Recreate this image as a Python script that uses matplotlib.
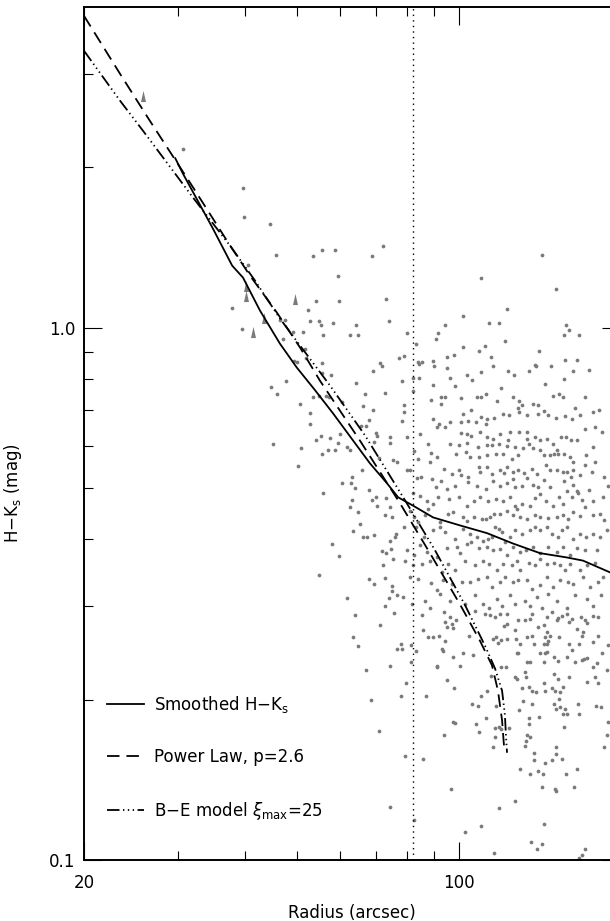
import matplotlib
matplotlib.use("Agg")
import matplotlib.pyplot as plt
from matplotlib.ticker import FixedLocator, NullFormatter

# smoothed H-Ks profile
smooth_r = [29.6, 30.6, 34.8, 37.8, 39.6, 42.6, 46.4, 49.9, 54.0, 58.3, 63.5, 68.3,
            73.5, 77.1, 82.2, 89.6, 100.6, 113.0, 126.3, 141.8, 159.2, 170.6, 191.5, 200.0]
smooth_hk = [2.08, 1.945, 1.534, 1.307, 1.241, 1.076, 0.933, 0.841, 0.762, 0.690, 0.614, 0.556,
             0.510, 0.480, 0.463, 0.440, 0.425, 0.411, 0.393, 0.377, 0.370, 0.365, 0.347, 0.340]

# power law model, p = 2.6
pl_r = [20.0, 23.35, 26.54, 31.54, 36.96, 40.8, 45.8, 50.6, 55.1, 65.4, 77.7, 88.4,
        100.6, 109.6, 115.4, 118.4, 120.5, 121.5]
pl_hk = [3.85, 2.996, 2.445, 1.871, 1.456, 1.252, 1.067, 0.917, 0.795, 0.614, 0.468, 0.377,
         0.302, 0.258, 0.232, 0.208, 0.183, 0.164]

# Bonnor-Ebert model, xi_max = 25
be_r = [20.0, 23.35, 25.77, 29.31, 31.96, 37.45, 41.7, 46.4, 50.6, 57.5, 66.9, 79.4,
        90.3, 102.8, 111.9, 116.9, 120.5, 122.0, 122.5, 123.1]
be_hk = [3.31, 2.667, 2.342, 1.970, 1.753, 1.425, 1.225, 1.040, 0.925, 0.779, 0.627, 0.474,
         0.382, 0.301, 0.253, 0.229, 0.208, 0.187, 0.172, 0.159]

boundary_r = 82.2

# limits (triangles)
lim_r = [25.8, 40.1, 40.1, 49.5, 43.3, 41.3]
lim_hk = [2.72, 1.199, 1.148, 1.133, 1.044, 0.979]

# individual stars (radius, H-Ks)
stars = [
    (30.6, 2.16), (39.6, 1.83), (39.8, 1.61), (44.5, 1.565), (45.6, 1.37), (53.6, 1.36),
    (55.6, 1.40), (58.8, 1.40), (68.9, 1.36), (72.2, 1.42), (59.5, 1.25), (40.5, 1.31),
    (73.1, 1.13), (74.2, 1.03), (37.8, 1.09), (39.4, 0.995), (54.2, 1.12), (59.8, 1.12),
    (52.4, 1.08), (52.9, 1.03), (55.0, 1.03), (55.4, 1.01), (58.2, 1.02), (55.8, 0.97),
    (51.3, 0.98), (49.1, 0.98), (46.4, 1.035), (47.5, 1.035), (47.1, 0.95), (64.4, 1.01),
    (62.7, 0.97), (65.0, 0.97), (51.6, 0.91), (49.2, 0.867), (50.0, 0.86), (51.8, 0.875),
    (55.5, 0.858), (55.6, 0.823), (57.8, 0.815), (71.3, 0.858), (72.0, 0.847), (69.1, 0.83),
    (64.4, 0.788), (47.7, 0.795), (44.7, 0.774), (77.3, 0.875),
    (143, 1.37), (110, 1.24), (152, 1.18), (102, 1.05), (123, 1.085), (94.5, 1.01),
    (114, 1.02), (119, 1.02), (80.2, 0.975), (91.6, 0.975), (90.9, 0.953), (83.4, 0.93),
    (158.6, 1.01), (157, 0.97), (160.8, 0.99), (168, 0.97), (122, 0.945), (102, 0.92),
    (112, 0.925), (109, 0.905), (141, 0.905), (79.2, 0.885), (98, 0.89), (95.2, 0.88),
    (115, 0.88), (158, 0.87), (166, 0.87), (83.9, 0.86), (84.3, 0.853), (85.6, 0.86),
    (89.5, 0.865), (89.9, 0.848), (95.2, 0.84), (116, 0.847), (110, 0.825), (103.6, 0.815),
    (123.6, 0.828), (126.6, 0.815), (135, 0.828), (139, 0.85), (139.5, 0.847), (149, 0.847),
    (163.5, 0.83), (175, 0.833), (78.4, 0.795), (82.1, 0.805), (84.3, 0.805), (96.2, 0.805),
    (106, 0.797), (89.5, 0.78), (98.5, 0.778), (145, 0.785), (157, 0.8), (120, 0.77),
    (45.8, 0.75), (50.6, 0.72), (52.8, 0.69), (52.7, 0.66), (45.0, 0.605), (50.8, 0.595),
    (50.2, 0.55), (55.9, 0.49), (53.6, 0.74), (55.0, 0.743), (56.5, 0.743), (57.4, 0.74),
    (60.7, 0.725), (55.4, 0.627), (54.2, 0.615), (57.5, 0.62), (59.6, 0.606), (60.1, 0.632),
    (57.0, 0.59), (58.9, 0.59), (55.5, 0.58), (61.9, 0.596), (62.8, 0.59), (66.8, 0.75),
    (72.9, 0.753), (66.3, 0.713), (69.2, 0.70), (67.9, 0.67), (65.6, 0.653), (67.2, 0.653),
    (70.2, 0.635), (70.4, 0.625), (69.5, 0.61), (74.5, 0.623), (74.5, 0.607), (71.0, 0.57),
    (75.5, 0.563), (76.8, 0.56), (66.1, 0.54), (63.3, 0.525), (60.7, 0.51), (62.9, 0.51),
    (64.2, 0.50), (67.9, 0.495), (63.3, 0.474), (68.9, 0.474), (70.1, 0.48), (62.6, 0.46),
    (70.3, 0.463), (73.1, 0.478), (74.5, 0.46), (75.2, 0.44), (72.9, 0.445), (65.0, 0.45),
    (65.4, 0.427), (63.4, 0.414), (66.2, 0.405), (67.5, 0.404), (69.6, 0.408), (76.1, 0.405),
    (76.4, 0.41), (74.6, 0.397), (58.0, 0.393), (59.8, 0.373), (71.9, 0.38), (73.2, 0.377),
    (74.8, 0.383), (75.5, 0.368), (72.3, 0.358), (54.9, 0.343), (68.0, 0.337), (69.4, 0.33),
    (73.0, 0.338), (75.1, 0.327), (75.1, 0.32), (76.7, 0.315), (62.0, 0.31), (74.0, 0.31),
    (72.9, 0.30),
    (82.3, 0.760), (92.6, 0.740), (94.5, 0.740), (92.8, 0.717), (88.7, 0.731), (101.0, 0.738),
    (108.1, 0.740), (110.2, 0.740), (112.4, 0.751), (117.8, 0.729), (126.2, 0.740), (129.6, 0.729),
    (131.2, 0.716), (129.2, 0.706), (137.9, 0.717), (140.5, 0.714), (144.4, 0.697), (150.3, 0.745),
    (153.7, 0.749), (156.4, 0.740), (172.1, 0.740), (164.6, 0.707), (177.8, 0.694), (182.5, 0.701),
    (168.4, 0.684), (158.2, 0.681), (162.7, 0.674), (152.0, 0.677), (147.1, 0.684), (140.9, 0.687),
    (134.0, 0.684), (129.8, 0.694), (124.3, 0.684), (121.2, 0.689), (116.4, 0.677), (113.1, 0.674),
    (109.9, 0.679), (112.4, 0.660), (107.8, 0.664), (105.6, 0.699), (102.0, 0.689), (103.9, 0.669),
    (100.9, 0.664), (92.1, 0.660), (96.4, 0.664), (94.3, 0.650), (79.1, 0.714), (79.1, 0.694),
    (78.5, 0.667), (84.7, 0.632), (89.7, 0.674), (91.0, 0.650),
    (101.0, 0.634), (103.6, 0.632), (105.6, 0.627), (109.6, 0.636), (112.8, 0.623), (116.1, 0.618),
    (119.5, 0.632), (123.8, 0.614), (124.7, 0.636), (129.8, 0.636), (134.2, 0.636), (134.4, 0.618),
    (139.0, 0.623), (141.9, 0.616), (146.0, 0.618), (150.3, 0.605), (150.7, 0.580), (153.3, 0.580),
    (155.5, 0.623), (158.9, 0.623), (161.8, 0.614), (166.5, 0.614), (172.3, 0.646), (179.6, 0.650),
    (184.8, 0.636), (80.0, 0.623), (87.6, 0.605), (96.4, 0.605), (100.0, 0.603), (103.6, 0.606),
    (108.8, 0.597), (113.1, 0.603), (115.3, 0.601), (119.0, 0.605), (122.9, 0.598), (127.4, 0.597),
    (129.2, 0.576), (132.1, 0.593), (135.0, 0.605), (137.5, 0.595), (141.9, 0.590), (144.4, 0.576),
    (148.1, 0.576), (152.4, 0.590), (157.3, 0.580), (161.3, 0.571), (163.7, 0.559), (172.8, 0.576),
    (178.3, 0.597), (82.6, 0.586), (84.1, 0.567), (88.7, 0.581), (91.3, 0.571), (98.9, 0.580),
    (103.3, 0.585), (104.8, 0.571), (109.3, 0.571), (112.8, 0.576), (117.4, 0.580), (121.2, 0.580),
    (125.8, 0.567),
    (80.0, 0.539), (81.2, 0.541), (83.5, 0.522), (85.0, 0.524), (88.4, 0.559), (89.1, 0.520),
    (92.7, 0.516), (94.1, 0.543), (97.1, 0.530), (100.0, 0.539), (101.0, 0.529), (104.0, 0.525),
    (109.3, 0.547), (109.6, 0.535), (113.1, 0.547), (115.3, 0.531), (116.1, 0.516), (119.2, 0.539),
    (121.5, 0.533), (122.9, 0.547), (126.5, 0.535), (126.2, 0.520), (129.2, 0.539), (132.5, 0.533),
    (134.4, 0.522), (136.9, 0.543), (139.9, 0.531), (144.4, 0.518), (145.6, 0.551), (148.1, 0.539),
    (152.4, 0.539), (156.4, 0.535), (159.1, 0.535), (157.3, 0.516), (161.8, 0.524), (163.2, 0.539),
    (168.4, 0.528), (171.8, 0.551), (177.0, 0.535), (179.3, 0.559), (186.6, 0.525), (190.2, 0.505),
    (90.7, 0.501), (95.0, 0.498), (98.5, 0.505), (104.3, 0.512), (108.4, 0.505), (112.4, 0.498),
    (119.5, 0.503), (123.1, 0.510), (127.4, 0.501), (131.2, 0.505), (137.9, 0.506), (140.9, 0.501),
    (148.3, 0.501), (163.7, 0.507), (166.1, 0.494), (175.3, 0.495),
    (82.3, 0.490), (84.7, 0.483), (87.2, 0.473), (89.7, 0.466), (91.7, 0.480), (96.1, 0.476),
    (100.3, 0.480), (103.6, 0.463), (106.6, 0.473), (109.6, 0.480), (113.3, 0.473), (117.3, 0.476),
    (121.2, 0.473), (124.7, 0.480), (127.4, 0.463), (128.7, 0.456), (131.2, 0.466), (135.6, 0.463),
    (139.0, 0.478), (141.9, 0.487), (145.6, 0.473), (150.3, 0.463), (154.0, 0.480), (156.8, 0.466),
    (159.1, 0.494), (162.5, 0.480), (167.2, 0.490), (170.1, 0.475), (172.1, 0.461), (178.3, 0.473),
    (186.0, 0.480), (81.2, 0.453), (82.6, 0.440), (84.1, 0.431), (86.6, 0.444), (87.8, 0.456),
    (92.3, 0.431), (95.7, 0.447), (97.8, 0.450), (102.0, 0.440), (103.6, 0.434), (106.6, 0.440),
    (110.4, 0.437), (112.4, 0.437), (114.4, 0.440), (116.4, 0.447), (119.5, 0.447), (122.9, 0.453),
    (126.2, 0.444), (130.2, 0.440), (134.0, 0.437), (139.0, 0.445), (141.9, 0.440), (147.1, 0.439),
    (152.4, 0.440), (156.8, 0.444), (160.2, 0.437), (163.7, 0.450), (168.4, 0.442), (177.8, 0.444),
    (183.5, 0.447), (186.6, 0.435),
    (79.1, 0.422), (83.2, 0.422), (86.2, 0.404), (89.7, 0.416), (92.3, 0.422), (94.3, 0.413),
    (98.5, 0.401), (102.0, 0.419), (105.0, 0.410), (108.1, 0.404), (110.8, 0.397), (113.6, 0.401),
    (115.3, 0.404), (117.0, 0.422), (118.7, 0.419), (120.4, 0.413), (122.1, 0.395), (124.7, 0.404),
    (127.4, 0.416), (131.2, 0.410), (135.9, 0.416), (139.0, 0.422), (141.9, 0.416), (146.0, 0.422),
    (149.2, 0.410), (153.5, 0.404), (155.7, 0.416), (159.1, 0.422), (163.7, 0.401), (168.4, 0.410),
    (172.8, 0.404), (177.8, 0.410), (183.5, 0.404), (188.9, 0.416), (80.0, 0.382), (82.6, 0.374),
    (84.7, 0.390), (87.4, 0.379), (91.0, 0.371), (95.0, 0.385), (99.2, 0.387), (100.6, 0.377),
    (103.6, 0.393), (105.3, 0.395), (109.0, 0.385), (113.1, 0.387), (116.1, 0.382), (119.5, 0.383),
    (122.9, 0.374), (126.5, 0.387), (130.2, 0.379), (133.6, 0.382), (137.9, 0.387), (141.9, 0.377),
    (147.1, 0.387), (152.4, 0.379), (156.8, 0.387), (161.3, 0.374), (166.1, 0.385), (172.1, 0.382),
    (180.9, 0.382),
    (79.4, 0.365), (82.3, 0.358), (85.3, 0.360), (88.4, 0.365), (93.0, 0.348), (95.7, 0.360),
    (98.5, 0.350), (102.8, 0.365), (107.3, 0.358), (111.2, 0.365), (114.1, 0.360), (117.8, 0.350),
    (121.2, 0.360), (125.7, 0.358), (128.3, 0.365), (130.2, 0.350), (135.0, 0.362), (139.0, 0.358),
    (141.9, 0.368), (146.0, 0.360), (150.7, 0.362), (154.6, 0.358), (158.0, 0.350), (161.3, 0.360),
    (168.4, 0.350), (173.3, 0.358), (179.6, 0.362), (186.0, 0.340), (81.2, 0.340), (84.1, 0.337),
    (88.7, 0.332), (91.0, 0.321), (93.6, 0.335), (97.1, 0.330), (101.3, 0.333), (105.0, 0.333),
    (108.8, 0.337), (112.8, 0.340), (115.3, 0.326), (119.5, 0.333), (122.1, 0.340), (126.5, 0.333),
    (129.2, 0.335), (134.0, 0.335), (136.9, 0.323), (141.9, 0.328), (146.0, 0.340), (150.3, 0.326),
    (154.6, 0.335), (160.2, 0.333), (163.7, 0.330), (170.9, 0.340), (175.8, 0.326), (182.2, 0.333),
    (78.8, 0.312), (81.8, 0.303), (86.6, 0.307), (88.4, 0.298), (92.3, 0.316), (96.4, 0.307),
    (102.8, 0.303), (107.3, 0.314), (111.2, 0.303), (114.1, 0.298), (117.8, 0.309), (120.4, 0.300),
    (124.7, 0.314), (127.4, 0.303), (133.0, 0.307), (135.9, 0.300), (139.9, 0.312), (142.9, 0.298),
    (147.1, 0.316), (152.4, 0.307), (159.1, 0.298), (164.9, 0.314), (173.3, 0.309), (177.8, 0.300),
    (184.6, 0.315),
    (64.1, 0.288), (75.9, 0.291), (71.3, 0.276), (63.4, 0.262), (65.0, 0.252), (67.2, 0.227),
    (74.5, 0.231), (76.6, 0.249), (78.1, 0.254), (78.3, 0.249), (81.6, 0.253), (83.3, 0.247),
    (81.5, 0.235), (79.9, 0.215), (78.1, 0.203), (86.8, 0.203), (85.4, 0.288), (85.9, 0.270),
    (87.6, 0.262), (68.5, 0.200), (71.1, 0.175), (79.5, 0.157), (85.7, 0.155), (74.5, 0.126),
    (82.6, 0.119),
    (93.7, 0.292), (96.4, 0.286), (94.3, 0.280), (97.1, 0.278), (98.9, 0.282), (95.0, 0.274),
    (97.5, 0.273), (89.7, 0.262), (92.0, 0.263), (94.3, 0.258), (93.0, 0.249), (93.4, 0.247),
    (104.7, 0.263), (102.0, 0.245), (97.8, 0.241), (100.6, 0.231), (91.3, 0.230), (106.5, 0.243),
    (107.3, 0.293), (112.0, 0.290), (114.4, 0.289), (117.1, 0.286), (119.5, 0.290), (123.3, 0.290),
    (121.6, 0.275), (123.0, 0.278), (117.6, 0.262), (118.6, 0.256), (116.1, 0.260), (119.8, 0.259),
    (123.0, 0.260), (127.2, 0.270), (129.2, 0.282), (133.0, 0.282), (135.9, 0.284), (136.8, 0.290),
    (127.9, 0.260), (130.2, 0.255), (134.0, 0.262), (136.8, 0.263), (138.2, 0.255), (140.9, 0.274),
    (144.0, 0.276), (146.4, 0.286), (149.2, 0.292), (152.4, 0.282), (153.5, 0.285), (155.7, 0.287),
    (159.1, 0.290), (160.8, 0.280), (162.5, 0.284), (166.0, 0.272), (168.9, 0.286), (172.0, 0.282),
    (173.3, 0.279), (178.3, 0.287), (182.2, 0.286), (146.0, 0.268), (148.1, 0.264), (145.0, 0.262),
    (147.1, 0.258), (144.0, 0.254), (146.4, 0.254), (141.9, 0.245), (145.0, 0.245), (146.4, 0.246),
    (153.5, 0.236), (154.2, 0.262), (160.6, 0.255), (167.9, 0.255), (170.8, 0.268), (169.6, 0.264),
    (178.3, 0.257), (182.2, 0.264), (190.2, 0.253), (128.3, 0.245), (129.2, 0.245), (134.0, 0.235),
    (135.9, 0.235), (144.0, 0.235), (150.7, 0.241), (159.1, 0.241), (162.5, 0.248), (164.8, 0.235),
    (169.6, 0.237), (171.3, 0.239), (173.3, 0.240), (178.3, 0.230), (180.9, 0.234), (184.8, 0.245),
    (188.9, 0.227), (114.9, 0.222), (119.8, 0.230), (122.6, 0.230), (127.4, 0.221), (128.7, 0.219),
    (133.0, 0.225), (133.6, 0.221), (131.2, 0.210), (135.3, 0.211), (136.8, 0.208), (139.4, 0.207),
    (145.0, 0.208), (144.4, 0.215), (150.7, 0.224), (153.5, 0.219), (160.8, 0.221), (173.3, 0.216),
    (179.6, 0.221), (181.7, 0.215), (149.2, 0.210), (151.3, 0.208), (154.6, 0.207), (154.2, 0.201),
    (156.8, 0.211), (109.9, 0.203), (113.1, 0.208), (106.1, 0.196), (108.8, 0.195), (117.4, 0.195),
    (129.4, 0.191), (132.1, 0.199), (137.3, 0.196), (150.7, 0.196), (152.0, 0.192), (154.6, 0.194),
    (158.0, 0.192), (159.6, 0.188), (167.2, 0.196), (167.9, 0.188), (180.3, 0.195), (184.0, 0.194),
    (190.2, 0.182), (189.4, 0.172), (186.8, 0.163), (112.4, 0.185), (135.3, 0.185), (141.5, 0.186),
    (156.8, 0.188), (97.5, 0.182), (98.5, 0.181), (107.8, 0.180), (109.3, 0.174), (94.0, 0.172),
    (98.0, 0.210), (95.0, 0.218), (91.0, 0.231), (117.1, 0.177), (119.1, 0.178), (119.8, 0.176),
    (124.2, 0.177), (116.9, 0.170), (116.1, 0.163), (134.4, 0.172), (135.9, 0.170), (133.6, 0.167),
    (133.0, 0.164), (135.5, 0.180), (157.3, 0.178), (152.0, 0.163), (152.0, 0.158), (155.7, 0.155),
    (149.2, 0.154), (145.2, 0.152), (138.2, 0.159), (138.4, 0.154), (130.2, 0.148), (136.1, 0.145),
    (140.5, 0.147), (143.6, 0.145), (158.6, 0.145), (166.3, 0.148), (143.0, 0.137), (151.3, 0.136),
    (152.0, 0.135), (163.9, 0.137), (96.7, 0.136), (127.4, 0.129), (119.1, 0.125), (102.8, 0.113),
    (109.9, 0.116), (144.4, 0.117), (136.5, 0.108), (140.3, 0.105), (143.0, 0.107), (172.0, 0.105),
    (170.0, 0.102), (167.9, 0.101), (116.6, 0.103),
]
star_r = [s[0] for s in stars]
star_hk = [s[1] for s in stars]

plt.rcParams['font.family'] = ['DejaVu Sans']
plt.rcParams['mathtext.fontset'] = 'dejavusans'
plt.rcParams['lines.scale_dashes'] = False

fig = plt.figure(figsize=(6.10, 9.21), dpi=100)
ax = fig.add_axes([84 / 610, 61 / 921, 536 / 610, 853 / 921])

gray = '#7a7a7a'
ax.plot(star_r, star_hk, 'o', ms=2.7, mew=0, color=gray, zorder=2)
tri = [(-0.45, -1), (0.45, -1), (0, 1)]
ax.plot(lim_r, lim_hk, linestyle='none', marker=tri, ms=8, mew=0, color=gray, zorder=2)

ax.plot(smooth_r, smooth_hk, color='black', lw=1.3, label='Smoothed H\u2212K$_{\\rm s}$', zorder=3)
ax.plot(pl_r, pl_hk, color='black', lw=1.3, dashes=(9, 5), label='Power Law, p=2.6', zorder=3)
ax.plot(be_r, be_hk, color='black', lw=1.3, dashes=(9, 2.5, 1, 2.5, 1, 2.5, 1, 2.5),
        label='B\u2212E model $\\xi_{\\rm max}$=25', zorder=3)
ax.axvline(boundary_r, color='black', lw=1.0, dashes=(1, 3), zorder=3)

ax.set_xscale('log')
ax.set_yscale('log')
ax.set_xlim(20, 200)
ax.set_ylim(0.1, 4.0)

# the 200 tick sits on the cropped right edge, so it carries no label
ax.xaxis.set_major_locator(FixedLocator([20, 100, 200]))
ax.set_xticklabels(['20', '100', ''])
ax.xaxis.set_minor_locator(FixedLocator([30, 40, 50, 60, 70, 80, 90]))
ax.xaxis.set_minor_formatter(NullFormatter())
ax.yaxis.set_major_locator(FixedLocator([0.1, 1.0]))
ax.set_yticklabels(['0.1', '1.0'])
ax.yaxis.set_minor_locator(FixedLocator([0.2, 0.3, 0.4, 0.5, 0.6, 0.7, 0.8, 0.9, 2, 3]))
ax.yaxis.set_minor_formatter(NullFormatter())

ax.tick_params(which='both', direction='in', top=True, right=True, width=0.8, labelsize=12)
ax.tick_params(which='major', length=13)
ax.tick_params(which='minor', length=6.5)
ax.tick_params(axis='x', pad=10)
ax.tick_params(axis='y', pad=6)
for sp in ax.spines.values():
    sp.set_linewidth(1.4)

ax.set_xlabel('Radius (arcsec)', fontsize=12)
ax.set_ylabel('H\u2212K$_{\\rm s}$ (mag)', fontsize=12)
ax.xaxis.set_label_coords(0.5, -0.052)
ax.yaxis.set_label_coords(-0.112, 0.43)

ax.legend(loc='lower left', bbox_to_anchor=(0.043, 0.045), frameon=False, fontsize=12,
          borderaxespad=0, borderpad=0, handlelength=2.2, handletextpad=0.6,
          labelspacing=2.0)

fig.savefig('out.png', dpi=100)
